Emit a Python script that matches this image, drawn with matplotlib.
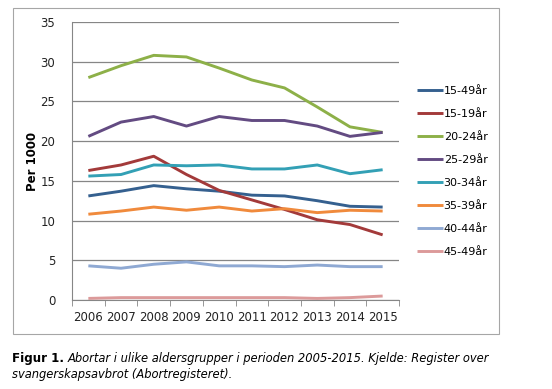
import matplotlib
matplotlib.use("Agg")
import matplotlib.pyplot as plt
from matplotlib.patches import Rectangle

# abortrater per 1000 kvinner, 2006-2015
years = [2006, 2007, 2008, 2009, 2010, 2011, 2012, 2013, 2014, 2015]
a15_49 = [13.1, 13.7, 14.4, 14.0, 13.7, 13.2, 13.1, 12.5, 11.8, 11.7]
a15_19 = [16.3, 17.0, 18.1, 15.8, 13.8, 12.6, 11.4, 10.1, 9.5, 8.2]
a20_24 = [28.0, 29.5, 30.8, 30.6, 29.2, 27.7, 26.7, 24.3, 21.8, 21.1]
a25_29 = [20.6, 22.4, 23.1, 21.9, 23.1, 22.6, 22.6, 21.9, 20.6, 21.1]
a30_34 = [15.6, 15.8, 17.0, 16.9, 17.0, 16.5, 16.5, 17.0, 15.9, 16.4]
a35_39 = [10.8, 11.2, 11.7, 11.3, 11.7, 11.2, 11.5, 11.0, 11.3, 11.2]
a40_44 = [4.3, 4.0, 4.5, 4.8, 4.3, 4.3, 4.2, 4.4, 4.2, 4.2]
a45_49 = [0.2, 0.3, 0.3, 0.3, 0.3, 0.3, 0.3, 0.2, 0.3, 0.5]

series = [
    ("15-49år", a15_49, "#35608f"),
    ("15-19år", a15_19, "#a33a3a"),
    ("20-24år", a20_24, "#8db048"),
    ("25-29år", a25_29, "#634b82"),
    ("30-34år", a30_34, "#33a0b5"),
    ("35-39år", a35_39, "#f08a3c"),
    ("40-44år", a40_44, "#8fa9d3"),
    ("45-49år", a45_49, "#dc9a9a"),
]

W, H = 552, 389
fig = plt.figure(figsize=(W / 100, H / 100), dpi=100)

# grey frame around the chart
fig.patches.append(Rectangle((13 / W, 1 - 334 / H), 486 / W, 326 / H,
                             transform=fig.transFigure, fill=False,
                             edgecolor="#a6a6a6", linewidth=0.8))

ax = fig.add_axes([72 / W, 1 - 300 / H, 327 / W, 278 / H])
for label, vals, col in series:
    ax.plot(years, vals, color=col, linewidth=2.1, label=label,
            solid_capstyle="butt")

ax.set_xlim(2005.5, 2015.5)
ax.set_ylim(0, 35)
ax.set_yticks(range(0, 36, 5))
ax.set_xticks(years)
ax.set_xticks([y + 0.5 for y in [2005] + years], minor=True)
ax.tick_params(axis="x", which="major", length=0, pad=8)
ax.tick_params(axis="x", which="minor", length=4, color="#868686")
ax.tick_params(axis="y", length=0, pad=12)
ax.tick_params(labelsize=8.5, labelcolor="#222222")
ax.grid(axis="y", color="#868686", linewidth=0.9)
ax.set_axisbelow(True)
for s in ["top", "right"]:
    ax.spines[s].set_visible(False)
for s in ["left", "bottom"]:
    ax.spines[s].set_color("#868686")
ax.set_ylabel("Per 1000", fontsize=8.5, fontweight="bold", labelpad=1)

fig.legend(loc="upper left", bbox_to_anchor=(407 / W, 1 - 76 / H),
           frameon=False, fontsize=8, handlelength=2.3, handletextpad=0.1,
           labelspacing=1.17)

fig.text(12 / W, 1 - 362 / H, "Figur 1.", fontsize=8.6, fontweight="bold",
         family="DejaVu Sans")
fig.text(68 / W, 1 - 362 / H,
         "Abortar i ulike aldersgrupper i perioden 2005-2015. Kjelde: Register over",
         fontsize=8.3, style="italic", family="DejaVu Sans")
fig.text(12 / W, 1 - 378 / H, "svangerskapsavbrot (Abortregisteret).",
         fontsize=8.3, style="italic", family="DejaVu Sans")

fig.savefig("out.png", dpi=100)
